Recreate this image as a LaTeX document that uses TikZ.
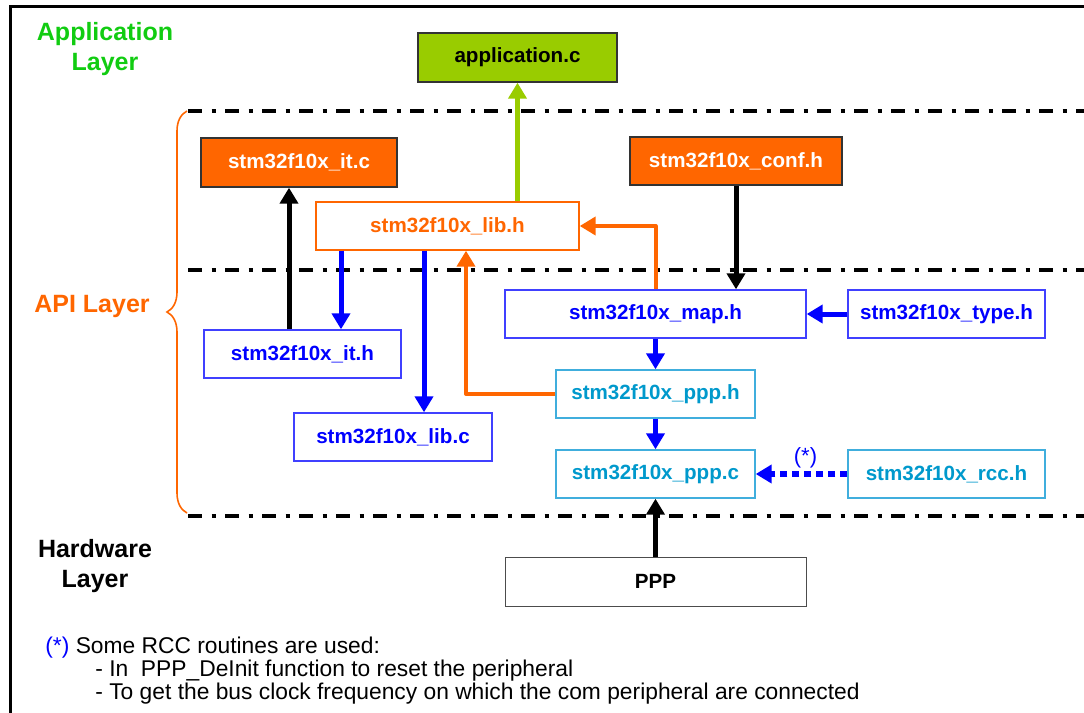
\documentclass[tikz,border=0pt]{standalone}
\usepackage{fontspec}
\setmainfont{Liberation Sans}
\usetikzlibrary{arrows.meta,decorations.pathreplacing}
\definecolor{stgreen}{HTML}{99CC00}
\definecolor{storange}{HTML}{FF6600}
\definecolor{stcyan}{HTML}{0099CC}
\definecolor{stcyanline}{HTML}{40AEDD}
\definecolor{stblueline}{HTML}{4040FF}
\definecolor{layergreen}{HTML}{11CC11}
\newcommand{\filefont}{\fontsize{10.3}{12}\selectfont\bfseries}
\newcommand{\notefont}{\fontsize{11.4}{13}\selectfont}
\tikzset{
    file box/.style 2 args={% rectangle + size in pixels
        draw, rectangle, inner sep=0pt, font=\filefont,
        minimum width=#1*0.5pt, minimum height=#2*0.5pt},
    file filled/.style={% coloured fill, dark rim
        fill=#1, draw=black!80, line width=0.7pt},
    file framed/.style 2 args={% white fill, coloured rim + text
        fill=white, draw=#1, text=#2, line width=0.7pt},
    link/.style={% thick arrow
        line width=2.5pt, line join=round, -{Triangle[width=9pt,length=8pt]}},
    layer line/.style={line width=1.8pt, dash pattern=on 7pt off 4.75pt on 2pt off 4.75pt},
    layer name/.style={font=\fontsize{12.5}{15}\selectfont\bfseries, align=center}}

\begin{document}
\begin{tikzpicture}[x=0.5pt, y=-0.5pt]
\useasboundingbox (0,0) rectangle (1084,713);
\draw[line width=1.5pt] (10,713) -- (10,6) -- (1084,6);
% layers
\node[layer name, text=layergreen] (applayer) at (105,49) {Application\\Layer};
\node[layer name, text=storange] (apilayer) at (92,306) {API Layer};
\node[layer name] (hwlayer) at (95,566) {Hardware\\Layer};
\draw[layer line] (188,111) -- (1084,111);
\draw[layer line] (188,270) -- (1084,270);
\draw[layer line] (188,516) -- (1084,516);
\draw[storange, line width=0.8pt, decorate, decoration={brace, amplitude=10pt}] (187,513) -- (187,111);
% files
\node[file box={199}{49}, file filled=stgreen] (app) at (517.5,57.5) {application.c};
\node[file box={196}{49}, file filled=storange, text=white] (itc) at (299,162.5) {stm32f10x\_it.c};
\node[file box={212}{48}, file filled=storange, text=white] (conf) at (736,161) {stm32f10x\_conf.h};
\node[file box={263}{48}, file framed={storange}{storange}] (libh) at (447.5,226) {stm32f10x\_lib.h};
\node[file box={197}{48}, file framed={stblueline}{blue}] (ith) at (302.5,354) {stm32f10x\_it.h};
\node[file box={198}{48}, file framed={stblueline}{blue}] (libc) at (393,437) {stm32f10x\_lib.c};
\node[file box={301}{48}, file framed={stblueline}{blue}] (maph) at (655.5,314) {stm32f10x\_map.h};
\node[file box={197}{48}, file framed={stblueline}{blue}] (typeh) at (946.5,314) {stm32f10x\_type.h};
\node[file box={199}{48}, file framed={stcyanline}{stcyan}] (ppph) at (655.5,394) {stm32f10x\_ppp.h};
\node[file box={199}{48}, file framed={stcyanline}{stcyan}] (pppc) at (655.5,474) {stm32f10x\_ppp.c};
\node[file box={197}{48}, file framed={stcyanline}{stcyan}] (rcch) at (946.5,474) {stm32f10x\_rcc.h};
\node[file box={301}{49}, draw=black!70, line width=0.5pt] (ppp) at (655.5,581.5) {PPP};
% links
\draw[link, stgreen] (app.south |- libh.north) -- (app.south);
\draw[link] ([xshift=-6.75pt]ith.north) -- ([xshift=-6.75pt]ith.north |- itc.south);
\draw[link, blue] ([xshift=-53.25pt]libh.south) -- ([xshift=-53.25pt]libh.south |- ith.north);
\draw[link, blue] ([xshift=-11.75pt]libh.south) -- ([xshift=-11.75pt]libh.south |- libc.north);
\draw[link, storange, line width=2pt] (ppph.west) -| ([xshift=9.25pt]libh.south);
\draw[link, storange, line width=2pt] (maph.north) |- (libh.east);
\draw[link] (conf.south) -- (conf.south |- maph.north);
\draw[link, blue] (typeh.west) -- (maph.east);
\draw[link, blue] (maph.south) -- (ppph.north);
\draw[link, blue] (ppph.south) -- (pppc.north);
\draw[link, blue, line width=3pt, dash pattern=on 3.5pt off 2.5pt] (rcch.west) -- (pppc.east)
    node[midway, above=-2pt, xshift=2pt, text=blue, font=\fontsize{11}{13}\selectfont] (star) {(*)};
\draw[link] (ppp.north) -- (pppc.south);
% note
\node[anchor=west, inner sep=0pt, font=\notefont] (note) at (45,648) {\textcolor{blue}{(*)} Some RCC routines are used:};
\node[anchor=west, inner sep=0pt, font=\notefont] (notein) at (95,671) {- In\ \ PPP\_DeInit function to reset the peripheral};
\node[anchor=west, inner sep=0pt, font=\notefont] (noteto) at (95,694) {- To get the bus clock frequency on which the com peripheral are connected};
\end{tikzpicture}
\end{document}
